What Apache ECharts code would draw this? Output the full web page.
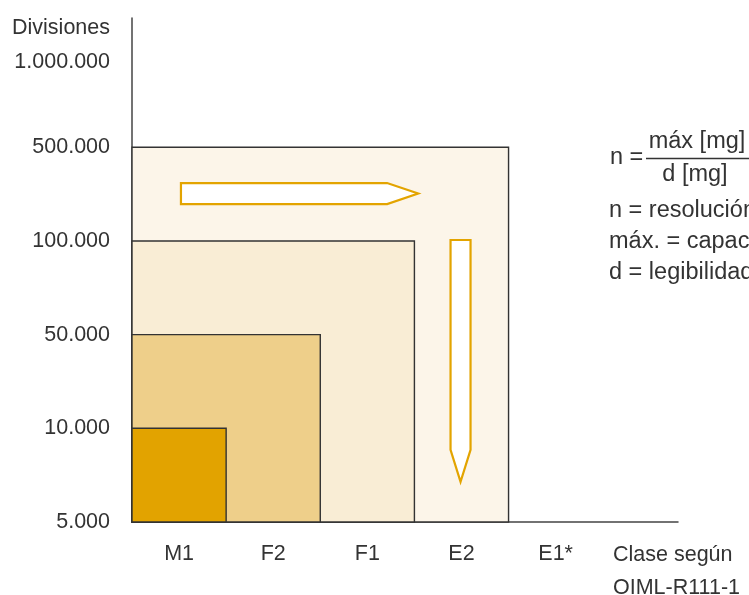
<!DOCTYPE html>
<html>
<head>
<meta charset="utf-8">
<script src="https://cdn.jsdelivr.net/npm/echarts@6/dist/echarts.min.js"></script>
<style>
html,body{margin:0;padding:0;background:#fff;}
#chart{width:749px;height:595px;}
</style>
</head>
<body>
<div id="chart"></div>
<script>
// ---- data ----
const classes = ['M1', 'F2', 'F1', 'E2', 'E1*'];
const levelLabels = ['5.000', '10.000', '50.000', '100.000', '500.000', '1.000.000'];
const levelValues = [5000, 10000, 50000, 100000, 500000, 1000000];
const classMaxDivisions = [10000, 50000, 100000, 500000];
const classColors = ['#e2a300', '#eecf8a', '#f9edd5', '#fcf5e9'];
const yAxisTitle = 'Divisiones';
const xAxisTitle = 'Clase según\nOIML-R111-1';
const formulaNumerator = 'máx [mg]';
const formulaDenominator = 'd [mg]';
const definitions = ['n = resolución', 'máx. = capacidad', 'd = legibilidad'];

const FONT = "'Liberation Sans', Arial, sans-serif";
const TEXT = '#333333';
const AXIS = '#444444';
const ORANGE = '#e3a400';
const FS = 21.5;

// rectangles, largest first so the smaller ones sit on top
const rectData = classMaxDivisions
  .map((d, i) => [i, levelValues.indexOf(d)])
  .reverse();

const chart = echarts.init(document.getElementById('chart'), null, {renderer: 'canvas'});

const option = {
  backgroundColor: '#ffffff',
  animation: false,
  grid: {left: 132, right: 71, top: 18, bottom: 73, containLabel: false, outerBoundsMode: 'none'},
  xAxis: {
    type: 'value',
    min: 0,
    max: 5.8,
    interval: 0.5,
    axisLine: {show: true, lineStyle: {color: AXIS, width: 1.5}},
    axisTick: {show: false},
    splitLine: {show: false},
    axisLabel: {
      margin: 21,
      color: TEXT,
      fontFamily: FONT,
      fontSize: FS,
      showMaxLabel: false,
      formatter: function (v) {
        const k = Math.round(v * 2);
        if (Math.abs(v * 2 - k) > 1e-6 || k % 2 !== 1) return '';
        return classes[(k - 1) / 2] || '';
      }
    },
    name: xAxisTitle,
    nameLocation: 'end',
    nameGap: -65,
    nameTextStyle: {
      color: TEXT, fontFamily: FONT, fontSize: FS,
      align: 'left', verticalAlign: 'top', lineHeight: 33,
      padding: [17, 0, 0, 0]
    }
  },
  yAxis: {
    type: 'value',
    min: 0,
    max: 5.38,
    interval: 1,
    axisLine: {show: true, lineStyle: {color: AXIS, width: 1.5}},
    axisTick: {show: false},
    splitLine: {show: false},
    axisLabel: {
      margin: 22,
      color: TEXT,
      fontFamily: FONT,
      fontSize: FS,
      showMaxLabel: false,
      formatter: function (v) {
        if (Math.abs(v - Math.round(v)) > 1e-6) return '';
        const lab = levelLabels[Math.round(v)];
        if (!lab) return '';
        return Math.round(v) === levelLabels.length - 1 ? '{top|' + lab + '}' : lab;
      },
      rich: {
        top: {color: TEXT, fontFamily: FONT, fontSize: FS, padding: [16, 0, 0, 0]}
      }
    },
    name: yAxisTitle,
    nameLocation: 'end',
    nameGap: -10,
    nameTextStyle: {
      color: TEXT, fontFamily: FONT, fontSize: FS,
      align: 'right', verticalAlign: 'middle',
      padding: [0, 22, 0, 0]
    }
  },
  series: [
    {
      type: 'custom',
      name: 'clases',
      data: rectData,
      z: 2,
      renderItem: function (params, api) {
        const ci = api.value(0);
        const lv = api.value(1);
        const p0 = api.coord([0, 0]);
        const p1 = api.coord([ci + 1, lv]);
        return {
          type: 'rect',
          shape: {x: p0[0], y: p1[1], width: p1[0] - p0[0], height: p0[1] - p1[1]},
          style: {fill: classColors[ci], stroke: '#333333', lineWidth: 1.4}
        };
      }
    },
    {
      type: 'custom',
      name: 'flechas',
      data: [[0], [1]],
      z: 3,
      renderItem: function (params, api) {
        let pts;
        if (params.dataIndex === 0) {
          // horizontal arrow: from M1 towards E2, between 100.000 and 500.000
          const a = api.coord([0.52, 3.506]);
          const b = api.coord([2.71, 3.506]);
          const c = api.coord([3.04, 3.506]);
          const h = 10.5;
          pts = [[a[0], a[1] - h], [b[0], b[1] - h], [c[0], c[1]], [b[0], b[1] + h], [a[0], a[1] + h]];
        } else {
          // vertical arrow: at E2, from 100.000 downwards
          const a = api.coord([3.49, 3.01]);
          const b = api.coord([3.49, 0.77]);
          const c = api.coord([3.49, 0.43]);
          const w = 10;
          pts = [[a[0] - w, a[1]], [a[0] + w, a[1]], [b[0] + w, b[1]], [c[0], c[1]], [b[0] - w, b[1]]];
        }
        return {
          type: 'polygon',
          shape: {points: pts},
          style: {fill: '#ffffff', stroke: ORANGE, lineWidth: 2.2, lineJoin: 'miter'}
        };
      }
    }
  ],
  graphic: [
    {type: 'text', x: 610, y: 158, style: {text: 'n =', fill: TEXT, font: '23.5px ' + FONT, align: 'left', verticalAlign: 'middle'}},
    {type: 'line', shape: {x1: 646, y1: 158.5, x2: 760, y2: 158.5}, style: {stroke: TEXT, lineWidth: 1.3}},
    {type: 'text', x: 697, y: 142, style: {text: formulaNumerator, fill: TEXT, font: '23.5px ' + FONT, align: 'center', verticalAlign: 'middle'}},
    {type: 'text', x: 695, y: 175, style: {text: formulaDenominator, fill: TEXT, font: '23.5px ' + FONT, align: 'center', verticalAlign: 'middle'}},
    {type: 'text', x: 609, y: 211, style: {text: definitions[0], fill: TEXT, font: '23.5px ' + FONT, align: 'left', verticalAlign: 'middle'}},
    {type: 'text', x: 609, y: 242, style: {text: definitions[1], fill: TEXT, font: '23.5px ' + FONT, align: 'left', verticalAlign: 'middle'}},
    {type: 'text', x: 609, y: 273, style: {text: definitions[2], fill: TEXT, font: '23.5px ' + FONT, align: 'left', verticalAlign: 'middle'}}
  ]
};

chart.setOption(option);
</script>
</body>
</html>
